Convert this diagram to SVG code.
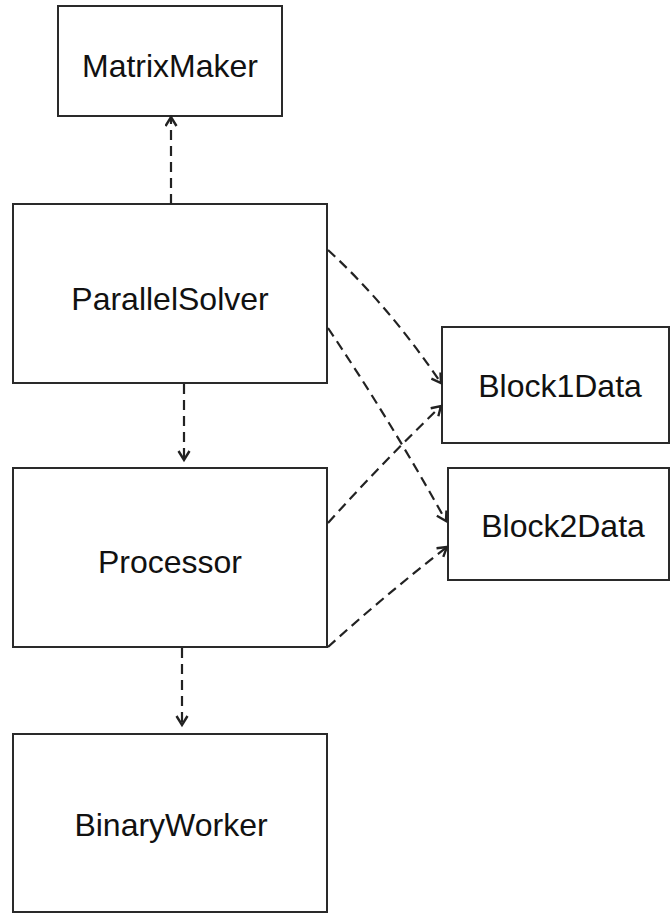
<svg xmlns="http://www.w3.org/2000/svg" width="670" height="913" viewBox="0 0 670 913">
<style>
.box{fill:#fff;stroke:#2a2a2a;stroke-width:2}
.lbl{font-family:"Liberation Sans",Arial,sans-serif;font-size:32px;fill:#111;text-anchor:middle}
.dep{fill:none;stroke:#222;stroke-width:2.2;stroke-dasharray:10 6}
</style>
<defs>
<marker id="arr" markerUnits="userSpaceOnUse" markerWidth="16" markerHeight="16" refX="10" refY="6.5" orient="auto">
<path d="M1,1 L10,6.5 L1,12" fill="none" stroke="#222" stroke-width="2.4"/>
</marker>
</defs>
<rect width="670" height="913" fill="#fff"/>
<g id="MatrixMaker"><rect class="box" x="58" y="6" width="224" height="110"/><text class="lbl" x="170" y="77">MatrixMaker</text></g>
<g id="ParallelSolver"><rect class="box" x="13" y="204" width="314" height="179"/><text class="lbl" x="170" y="310">ParallelSolver</text></g>
<g id="Processor"><rect class="box" x="13" y="468" width="314" height="179"/><text class="lbl" x="170" y="573">Processor</text></g>
<g id="BinaryWorker"><rect class="box" x="13" y="734" width="314" height="178"/><text class="lbl" x="171" y="836">BinaryWorker</text></g>
<g id="Block1Data"><rect class="box" x="442" y="327" width="227" height="116"/><text class="lbl" x="560" y="397">Block1Data</text></g>
<g id="Block2Data"><rect class="box" x="448" y="468" width="221" height="112"/><text class="lbl" x="563" y="537">Block2Data</text></g>
<g id="connectors">
<path class="dep" d="M171,204 L171,117" marker-end="url(#arr)"/>
<path class="dep" d="M184,384 L184,460" marker-end="url(#arr)"/>
<path class="dep" d="M182,648 L182,725" marker-end="url(#arr)"/>
<path class="dep" d="M328,250 Q388,305 441,383" marker-end="url(#arr)"/>
<path class="dep" d="M328,328 Q390,420 446,521" marker-end="url(#arr)"/>
<path class="dep" d="M328,523 Q383,462 441,406" marker-end="url(#arr)"/>
<path class="dep" d="M328,647 Q384,596 447,547" marker-end="url(#arr)"/>
</g>
</svg>
